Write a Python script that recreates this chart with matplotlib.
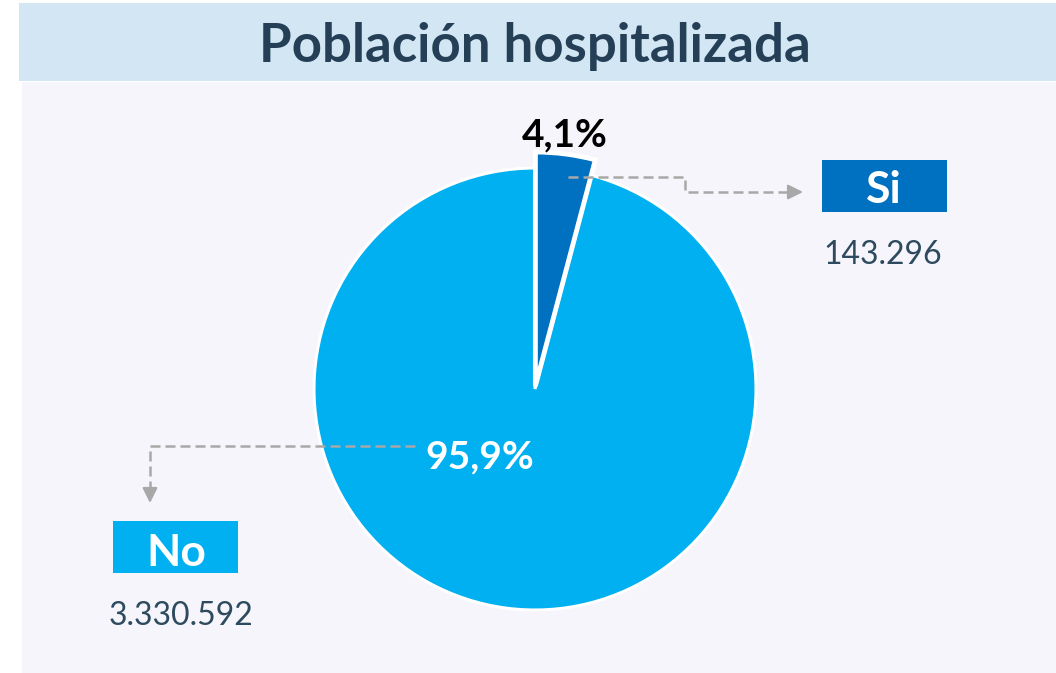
import matplotlib
matplotlib.use("Agg")
import matplotlib.pyplot as plt
from matplotlib.patches import Rectangle

# ---- data ----
categories = ["Si", "No"]
values = [143296, 3330592]
value_labels = ["143.296", "3.330.592"]
colors = ["#0070C0", "#00B0F0"]
title = "Población hospitalizada"

plt.rcParams['font.family'] = ['Lato', 'DejaVu Sans']

W, H = 1056, 673
fig = plt.figure(figsize=(W / 100, H / 100), dpi=100)
fig.patch.set_facecolor("white")
ax = fig.add_axes([0, 0, 1, 1])
ax.set_xlim(0, W)
ax.set_ylim(0, H)
ax.axis("off")

def Y(y):  # convert top-based pixel y to data y
    return H - y

# backgrounds
ax.add_patch(Rectangle((19, Y(81)), W - 19, 78, facecolor="#D2E6F4", edgecolor="none", zorder=0))
ax.add_patch(Rectangle((22, Y(673)), W - 22, 591, facecolor="#F5F5FB", edgecolor="none", zorder=0))

ax.text(535, Y(62), title, ha="center", va="baseline", fontsize=38, fontweight="bold",
        color="#243F56")

# pie
cx, cy, r = 535, Y(389), 221
total = sum(values)
wedges, _ = ax.pie(values, colors=colors, startangle=90, counterclock=False,
                   center=(cx, cy), radius=r, explode=[3, 0],
                   wedgeprops=dict(edgecolor="white", linewidth=2.2), frame=True)
wedges[0].set_radius(234)
wedges[0].set_linewidth(3.5)
wedges[0].set_zorder(3)
ax.set_xlim(0, W)
ax.set_ylim(0, H)
ax.set_aspect("auto")
ax.axis("off")

def pct(v):
    return f"{v / total * 100:.1f}".replace(".", ",") + "%"

ax.text(565, Y(146), pct(values[0]), ha="center", va="baseline", fontsize=28,
        fontweight="bold", color="black", zorder=5)
ax.text(480, Y(468), pct(values[1]), ha="center", va="baseline", fontsize=28,
        fontweight="bold", color="white", zorder=5)

# connectors
lc = "#A8A8A8"
dash = dict(color=lc, lw=1.8, linestyle=(0, (4, 2)), zorder=4)
ax.plot([568, 685, 685, 792], [Y(177), Y(177), Y(192), Y(192)], **dash)
ax.annotate("", xy=(803, Y(192)), xytext=(790, Y(192)),
            arrowprops=dict(arrowstyle="-|>,head_length=0.9,head_width=0.45",
                            color=lc, lw=1.6, shrinkA=0, shrinkB=0), zorder=4)
ax.plot([415, 150, 150], [Y(446), Y(446), Y(490)], **dash)
ax.annotate("", xy=(150, Y(503)), xytext=(150, Y(488)),
            arrowprops=dict(arrowstyle="-|>,head_length=0.9,head_width=0.45",
                            color=lc, lw=1.6, shrinkA=0, shrinkB=0), zorder=4)

# category boxes
ax.add_patch(Rectangle((822, Y(212)), 125, 52, facecolor=colors[0], edgecolor="none", zorder=4))
ax.text(884, Y(203), categories[0], ha="center", va="baseline", fontsize=32,
        fontweight="bold", color="white", zorder=5)
ax.text(883, Y(264), value_labels[0], ha="center", va="baseline", fontsize=23,
        color="#2E4A5E", zorder=5)

ax.add_patch(Rectangle((113, Y(573)), 125, 52, facecolor=colors[1], edgecolor="none", zorder=4))
ax.text(176, Y(566), categories[1], ha="center", va="baseline", fontsize=32,
        fontweight="bold", color="white", zorder=5)
ax.text(181, Y(625), value_labels[1], ha="center", va="baseline", fontsize=23,
        color="#2E4A5E", zorder=5)

fig.savefig("out.png", dpi=100, facecolor=fig.get_facecolor())
